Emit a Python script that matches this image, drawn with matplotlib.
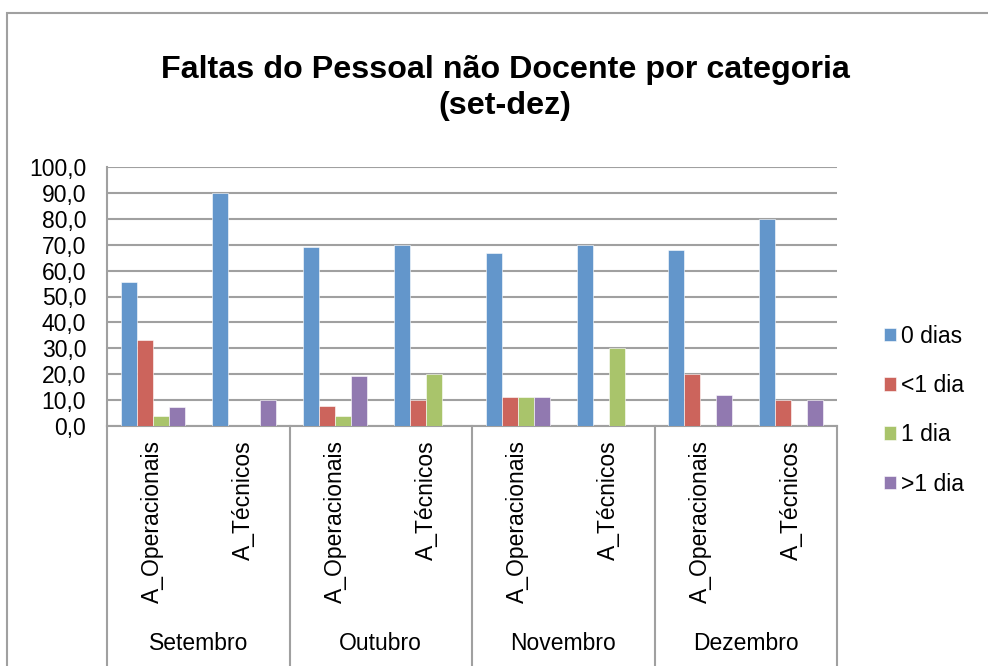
import matplotlib.pyplot as plt
import matplotlib.transforms as mtransforms
from matplotlib.patches import Rectangle
import numpy as np

plt.rcParams['font.family'] = ['Liberation Sans', 'DejaVu Sans']

# Data
months = ['Setembro', 'Outubro', 'Novembro', 'Dezembro']
groups = ['A_Operacionais', 'A_Técnicos']
series = ['0 dias', '<1 dia', '1 dia', '>1 dia']
colors = ['#6396CB', '#CC645C', '#A9C46B', '#9179B0']

zero_dias = [55.6, 90.0, 69.2, 70.0, 66.7, 70.0, 68.0, 80.0]
menos1 = [33.3, 0, 7.7, 10.0, 11.1, 0, 20.0, 10.0]
um_dia = [3.7, 0, 3.8, 20.0, 11.1, 30.0, 0, 0]
mais1 = [7.4, 10.0, 19.2, 0, 11.1, 0, 12.0, 10.0]
values = [zero_dias, menos1, um_dia, mais1]

fig = plt.figure(figsize=(9.88, 6.66), dpi=100)
ax = fig.add_axes([107 / 988, 1 - 426 / 666, 730 / 988, 259 / 666])

n = len(zero_dias)
x = np.arange(n)
w = 0.175
for i, (vals, c, lab) in enumerate(zip(values, colors, series)):
    ax.bar(x + (i - 1.5) * w, vals, w, color=c, label=lab, zorder=3,
           edgecolor='white', linewidth=0.4)

ax.set_xlim(-0.5, n - 0.5)
ax.set_ylim(0, 100)
ax.set_yticks(np.arange(0, 101, 10))
ax.set_yticklabels([f'{v:.1f}'.replace('.', ',') for v in np.arange(0, 101, 10)], fontsize=16.5)
ax.yaxis.grid(True, color='#a0a0a0', linewidth=1.5, zorder=0)
ax.set_xticks([])
ax.tick_params(axis='y', length=0, pad=15)
for s in ['top', 'right']:
    ax.spines[s].set_visible(False)
for s in ['left', 'bottom']:
    ax.spines[s].set_color('#a0a0a0')
    ax.spines[s].set_linewidth(1.5)

# Category labels
trans = mtransforms.blended_transform_factory(ax.transData, fig.transFigure)
for k in range(n):
    ax.text(k, 1 - 440 / 666, groups[k % 2], rotation=90, ha='center', va='top',
            fontsize=16.5, transform=trans)
for m, name in enumerate(months):
    ax.text(2 * m + 0.5, 1 - 643 / 666, name, ha='center', va='center',
            fontsize=16.5, transform=trans)
for b in np.arange(-0.5, n, 2):
    ax.plot([b, b], [1 - 426 / 666, 0], color='#a0a0a0', linewidth=1.5,
            transform=trans, clip_on=False)

fig.text(505 / 988, 1 - 88 / 666, 'Faltas do Pessoal não Docente por categoria\n(set-dez)',
         ha='center', va='center', fontsize=23.2, fontweight='bold', linespacing=1.3)

fig.legend(loc='upper left', bbox_to_anchor=(863 / 988, 1 - 304 / 666), frameon=False,
           fontsize=16.5, handlelength=0.55, handleheight=0.55, handletextpad=0.2,
           labelspacing=1.15)

fig.patches.append(Rectangle((7 / 988, -0.01), 1.0, 1 - 13 / 666 + 0.01,
                             transform=fig.transFigure, fill=False,
                             edgecolor='#a0a0a0', linewidth=1.5))

fig.savefig('out.png', dpi=100)
